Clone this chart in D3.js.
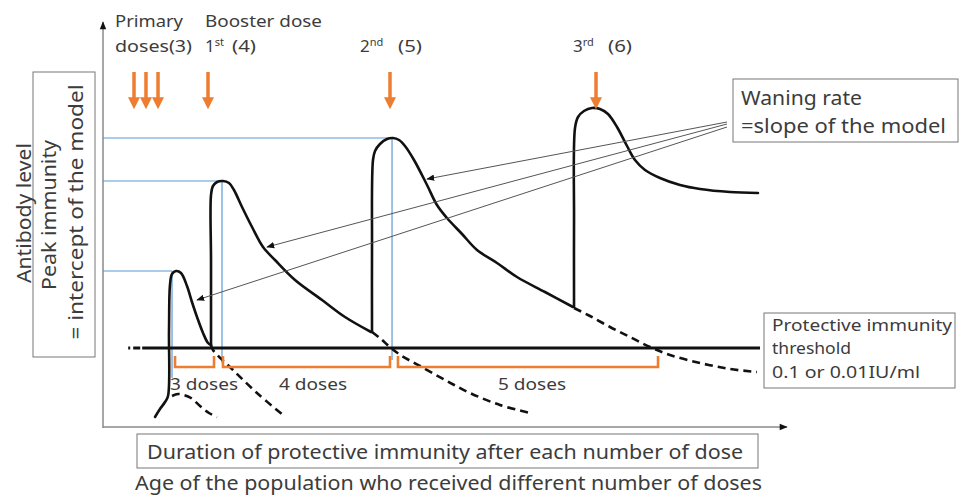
<!DOCTYPE html>
<html><head><meta charset="utf-8">
<script src="https://cdn.jsdelivr.net/npm/d3@7"></script>
<style>
body{margin:0;background:#fff}
svg text{font-family:"Noto Sans","Noto Sans CJK JP",sans-serif;fill:#3c3c3c}
</style></head><body>
<svg id="c" width="961" height="495"></svg>
<script>
// ---------- data (time units 0-100, antibody level units 0-100) ----------
const doseTimes = [4.43, 6.14, 7.86, 15, 41, 70.43];
const threshold = 20;
const primaryCurve = [[7.43,2.75],[8.14,4.75],[8.86,6.5],[9.29,8],[9.43,24.5],[9.57,35.75],[9.86,38.5],[10.43,39.25],[11.14,38.75],[12,35.5],[12.71,31.5],[13.43,27.75],[14.29,23.75],[15,21.25],[15.43,20.75]];
const primaryTail = [[9.86,8],[10.71,8.5],[11.57,8.25],[12.57,7.5],[13.86,5.5],[15.14,3.75],[16.29,2.75]];
const primaryWane = [[15.43,20.75],[15.71,19.5],[18.57,14.5],[22,8.75],[25.71,3.25]];
const booster1Curve = [[15.43,20.75],[15.43,42],[15.43,58.25],[15.71,60.5],[16.29,61.5],[17.14,61.75],[18,61.25],[18.71,59.5],[19.86,55.25],[21.29,50.25],[22.86,45.25],[24.57,42],[27.43,37],[31.29,32],[34.57,27.75],[38.29,24]];
const booster1Wane = [[38.43,24],[39.71,22.25],[41.14,20],[42.71,18],[45.29,15.5],[48.86,12],[52.43,8.75],[56.71,5.75],[61,3.75]];
const booster2Curve = [[38.43,24],[38.43,44.5],[38.57,67],[38.86,69.25],[39.57,71],[40.57,72.25],[41.43,72.5],[42.29,72],[43.14,70.5],[44.43,67],[46.29,60.75],[47.71,55.75],[49.14,52.5],[51.29,48.5],[53.43,44.5],[56.29,41.25],[59.14,37.75],[63.14,34],[67.14,30.25]];
const booster2Wane = [[67.29,30],[69.57,28],[72.43,25.25],[75.29,22.75],[78.14,20.25],[81,18.25],[85.29,16.25],[89.57,14.75],[93.43,14]];
const booster3Curve = [[67.29,30.25],[67.29,52],[67.43,75],[67.86,77.75],[68.71,79.25],[69.86,80],[71,79.75],[72.14,78.5],[73.43,75.25],[74.86,70.5],[76,67],[77.43,64.5],[79.57,62.5],[82.43,60.75],[85.29,59.75],[89.57,59],[93.57,58.75]];
// peak immunity markers: [time, peak level, bottom of drop line]
const peakTimes = [9.86, 17, 41.29];
const peakLevels = [39.25, 61.75, 72.5];
const peakDropTo = [12.5, 16.25, 17];
// duration brackets
const bracketStart = [10.29, 17.14, 42.14];
const bracketEnd = [15.86, 41, 79.29];
const bracketLabels = ["3 doses", "4 doses", "5 doses"];
const bracketLabelAt = [14.43, 30, 61.29];
// waning-rate pointers
const pointerTargets = [[46.29,62.25],[23.43,45.25],[13.43,32]];
const pointerFrom = [[89.14,76.5],[89.14,76],[89.14,75.25]];

// ---------- scales ----------
const svg = d3.select("#c");
const x = d3.scaleLinear().domain([0,100]).range([103,803]);
const y = d3.scaleLinear().domain([0,100]).range([428,28]);

const defs = svg.append("defs");
defs.append("marker").attr("id","ah").attr("viewBox","0 0 10 10").attr("refX",9).attr("refY",5)
  .attr("markerWidth",8).attr("markerHeight",8).attr("markerUnits","userSpaceOnUse").attr("orient","auto")
  .append("path").attr("d","M0,1 L10,5 L0,9 Z").attr("fill","#111");
defs.append("marker").attr("id","axh").attr("viewBox","0 0 10 10").attr("refX",9).attr("refY",5)
  .attr("markerWidth",9).attr("markerHeight",8).attr("markerUnits","userSpaceOnUse").attr("orient","auto")
  .append("path").attr("d","M0,1 L10,5 L0,9 Z").attr("fill","#111");

// axes
svg.append("line").attr("x1",x(0)).attr("y1",y(0)).attr("x2",x(0)).attr("y2",y(101.5))
  .attr("stroke","#8a8a8a").attr("stroke-width",1.5).attr("marker-end","url(#axh)");
svg.append("line").attr("x1",x(0)).attr("y1",y(0.25)).attr("x2",x(97.7)).attr("y2",y(0.25))
  .attr("stroke","#8a8a8a").attr("stroke-width",1.5).attr("marker-end","url(#axh)");

// blue peak lines
const blue = "#5b9bd5";
peakTimes.forEach((t,i)=>{
  svg.append("line").attr("x1",x(0)).attr("x2",x(t)).attr("y1",y(peakLevels[i])).attr("y2",y(peakLevels[i]))
    .attr("stroke",blue).attr("stroke-width",1.2);
  svg.append("line").attr("x1",x(t)).attr("x2",x(t)).attr("y1",y(peakLevels[i])).attr("y2",y(peakDropTo[i]))
    .attr("stroke",blue).attr("stroke-width",1.2);
});

// threshold line
svg.append("line").attr("x1",x(3.6)).attr("x2",x(93.86)).attr("y1",y(threshold)).attr("y2",y(threshold))
  .attr("stroke","#111").attr("stroke-width",3).attr("stroke-dasharray","2,3,7,2,1000");

// curves
const line = d3.line().x(d=>x(d[0])).y(d=>y(d[1])).curve(d3.curveCatmullRom.alpha(0.5));
const solid = [primaryCurve, booster1Curve, booster2Curve, booster3Curve];
const dashed = [primaryTail, primaryWane, booster1Wane, booster2Wane];
solid.forEach(c=>svg.append("path").attr("d",line(c)).attr("fill","none").attr("stroke","#111")
  .attr("stroke-width",2.6).attr("stroke-linejoin","round").attr("stroke-linecap","round"));
dashed.forEach(c=>svg.append("path").attr("d",line(c)).attr("fill","none").attr("stroke","#111")
  .attr("stroke-width",2.6).attr("stroke-dasharray","8,5"));

// orange dose arrows
const orange = "#ed7d31";
doseTimes.forEach(t=>{
  svg.append("line").attr("x1",x(t)).attr("x2",x(t)).attr("y1",y(89)).attr("y2",y(82.5))
    .attr("stroke",orange).attr("stroke-width",3.5);
  svg.append("path").attr("fill",orange)
    .attr("d",`M${x(t)-6},${y(82.7)} L${x(t)+6},${y(82.7)} L${x(t)},${y(79.7)} Z`);
});

function txt(t,xx,yy,fs,len,anchor){
  const e = svg.append("text").attr("x",xx).attr("y",yy).attr("font-size",fs||17).attr("text-anchor",anchor||"start").text(t);
  if(len) e.attr("textLength",len).attr("lengthAdjust","spacingAndGlyphs");
  return e;
}

// brackets
bracketStart.forEach((s,i)=>{
  const e = bracketEnd[i];
  svg.append("path").attr("fill","none").attr("stroke",orange).attr("stroke-width",2.6)
    .attr("d",`M${x(s)},${y(18)} L${x(s)},${y(15.25)} L${x(e)},${y(15.25)} L${x(e)},${y(18)}`);
  txt(bracketLabels[i], x(bracketLabelAt[i])-34, y(9.5), 17, 68);
});

// waning pointers
pointerTargets.forEach((p,i)=>{
  svg.append("line").attr("x1",x(pointerFrom[i][0])).attr("y1",y(pointerFrom[i][1]))
    .attr("x2",x(p[0])).attr("y2",y(p[1])).attr("stroke","#555").attr("stroke-width",1)
    .attr("marker-end","url(#ah)");
});

// top labels
txt("Primary",115,27,17,68);
txt("doses(3)",115,52,17,77);
txt("Booster dose",205,27,17,117);
function ordinal(n,sup,xx,paren,px){
  const t = svg.append("text").attr("x",xx).attr("y",52).attr("font-size",17);
  t.append("tspan").text(n);
  t.append("tspan").attr("font-size",11).attr("dy",-6).text(sup);
  txt(paren,px,52,17,24);
}
ordinal("1","st",205,"(4)",232);
ordinal("2","nd",360,"(5)",398);
ordinal("3","rd",573,"(6)",608);

// y-axis labels
svg.append("rect").attr("x",33).attr("y",72).attr("width",62).attr("height",285).attr("fill","none").attr("stroke","#777").attr("stroke-width",1);
[["Antibody level",31,213,140],["Peak immunity",56,215,150],["= intercept of the model",83,212,255]].forEach(d=>{
  svg.append("text").attr("transform",`translate(${d[1]},${d[2]}) rotate(-90)`).attr("text-anchor","middle")
    .attr("font-size",19).attr("textLength",d[3]).attr("lengthAdjust","spacingAndGlyphs").text(d[0]);
});

// waning box
svg.append("rect").attr("x",733).attr("y",79).attr("width",225).attr("height",63).attr("fill","#fff").attr("stroke","#777");
txt("Waning rate",741,105,19,121);
txt("=slope of the model",741,133,19,205);

// protective box
svg.append("rect").attr("x",764).attr("y",313).attr("width",191).attr("height",75).attr("fill","#fff").attr("stroke","#777");
txt("Protective immunity",772,331,16.5,180);
txt("threshold",772,354,16.5,79);
txt("0.1 or 0.01IU/ml",772,378,16.5,148);

// x labels
svg.append("rect").attr("x",137).attr("y",434).attr("width",621).attr("height",34).attr("fill","#fff").attr("stroke","#777");
txt("Duration of protective immunity after each number of dose",147,459,19,596);
txt("Age of the population who received different number of doses",135,490,19,627);
</script></body></html>
